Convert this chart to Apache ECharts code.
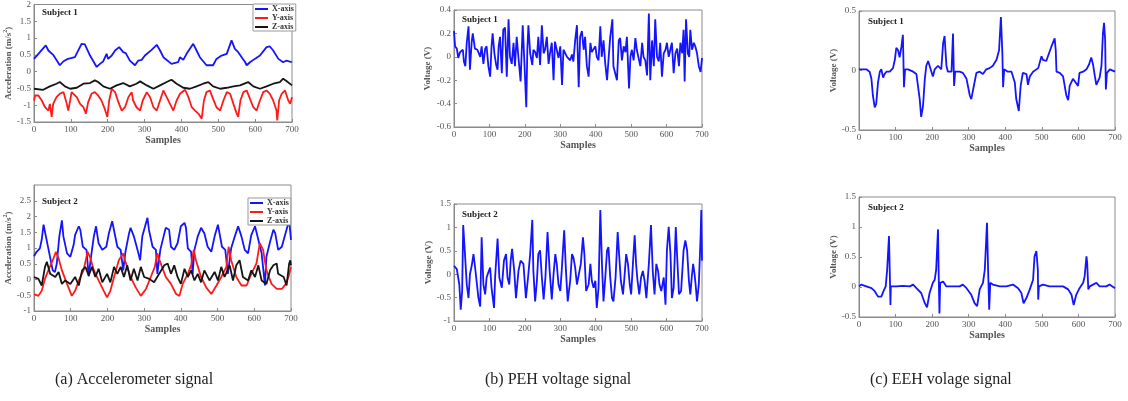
<!DOCTYPE html>
<html><head><meta charset="utf-8">
<script src="https://cdn.jsdelivr.net/npm/echarts@6/dist/echarts.min.js"></script>
<style>html,body{margin:0;padding:0;background:#fff}#c{width:1128px;height:401px}</style>
</head><body><div id="c"></div>
<script>
// ---------- DATA ----------
const xTicks = [0,100,200,300,400,500,600,700];
const seriesNames = ['X-axis','Y-axis','Z-axis'];
const captions = ['(a) Accelerometer signal','(b) PEH voltage signal','(c) EEH volage signal'];
const subjects = ['Subject 1','Subject 2'];

// (a) Subject 1
const acc1X_s = [0,32,39,43,52,70,80,92,100,111,129,138,152,170,172,179,188,197,201,211,220,231,242,249,260,274,283,292,301,319,333,342,351,373,377,391,396,405,414,432,441,450,468,486,495,509,523,536,545,554,573,577,586,599,613,631,640,649,663,676,685,700];
const acc1X_v = [0.38,0.78,0.63,0.67,0.5,0.19,0.31,0.38,0.4,0.43,0.83,0.81,0.48,0.14,0.11,0.23,0.31,0.53,0.38,0.48,0.63,0.73,0.58,0.55,0.33,0.19,0.33,0.35,0.48,0.65,0.8,0.63,0.43,0.23,0.21,0.28,0.43,0.35,0.53,0.83,0.63,0.43,0.19,0.19,0.38,0.48,0.53,0.93,0.68,0.58,0.28,0.19,0.28,0.38,0.48,0.73,0.75,0.63,0.38,0.28,0.33,0.28];
const acc1Y_s = [0,3,12,21,30,39,43,48,52,61,70,80,84,89,93,98,102,107,116,125,134,141,147,156,165,174,183,192,199,204,211,220,229,238,247,256,265,269,278,288,295,306,315,324,333,342,351,360,369,378,387,396,410,419,428,437,446,455,461,468,477,486,495,505,514,523,532,541,550,554,560,568,577,586,595,604,613,622,631,640,649,658,660,665,672,681,690,695,700];
const acc1Y_v = [-0.86,-0.71,-0.71,-0.86,-1.06,-1.16,-0.96,-1.35,-0.96,-0.76,-0.66,-0.61,-0.76,-0.96,-1.16,-0.86,-0.61,-0.56,-0.76,-0.96,-1.06,-1.25,-0.91,-0.66,-0.61,-0.71,-0.86,-1.11,-1.35,-0.86,-0.51,-0.61,-0.91,-1.16,-1.06,-0.76,-0.61,-0.86,-1.06,-1.16,-0.86,-0.61,-0.76,-1.06,-1.16,-0.86,-0.56,-0.76,-0.96,-1.16,-0.86,-0.66,-0.54,-0.76,-1.06,-1.16,-1.25,-1.4,-0.86,-0.61,-0.56,-0.81,-1.06,-1.16,-0.86,-0.61,-0.66,-0.96,-1.25,-1.35,-0.86,-0.61,-0.56,-0.81,-1.06,-1.16,-0.86,-0.61,-0.56,-0.66,-0.86,-1.16,-1.45,-0.86,-0.66,-0.56,-0.86,-0.96,-0.76];
const acc1Z_s = [0,25,43,61,70,84,98,116,134,152,165,174,188,206,224,242,260,278,288,306,324,342,360,373,387,405,423,441,459,473,486,505,523,541,559,581,595,613,631,649,667,676,685,700];
const acc1Z_v = [-0.51,-0.54,-0.44,-0.36,-0.31,-0.44,-0.51,-0.48,-0.36,-0.34,-0.26,-0.31,-0.44,-0.51,-0.41,-0.34,-0.44,-0.36,-0.29,-0.41,-0.51,-0.41,-0.31,-0.24,-0.36,-0.48,-0.51,-0.44,-0.36,-0.31,-0.44,-0.51,-0.48,-0.44,-0.41,-0.31,-0.44,-0.51,-0.44,-0.36,-0.31,-0.21,-0.28,-0.41];

// (a) Subject 2
const acc2X_s = [0,7,16,21,26,30,39,44,51,57,62,69,76,80,90,99,108,112,117,122,126,133,143,149,154,163,169,176,186,197,204,213,217,227,236,243,249,259,263,272,282,289,295,300,309,313,323,332,336,344,353,359,368,373,382,391,400,410,414,419,428,432,437,446,455,464,473,483,492,501,505,512,521,528,537,547,556,565,574,583,592,602,611,620,629,633,643,652,657,665,675,684,695,700];
const acc2X_v = [0.74,0.88,0.99,1.26,1.74,1.69,0.99,0.94,0.29,0.24,0.5,1.37,1.88,1.37,0.83,0.72,1.1,1.42,1.37,1.69,1.58,1.04,0.94,0.1,0.61,1.37,1.69,1.15,0.94,1.04,1.47,1.85,1.8,1.04,0.94,0.29,0.88,1.47,1.64,1.37,0.94,0.61,1.37,1.58,1.96,1.58,1.04,0.94,0.18,0.94,1.37,1.64,1.58,1.04,0.94,1.15,1.69,1.8,1.64,0.99,0.88,0.18,0.94,1.37,1.64,1.47,1.04,0.88,1.37,1.74,1.8,1.04,0.94,0.18,0.99,1.37,1.69,1.37,0.94,0.83,1.42,1.69,1.26,0.83,-0.19,0.72,1.2,1.58,1.47,0.94,1.04,1.42,1.88,1.26];
const acc2Y_s = [0,12,21,30,39,53,60,67,76,90,103,112,122,135,146,154,163,176,190,199,208,218,231,243,249,263,277,291,305,318,329,336,345,359,373,387,396,405,419,428,435,441,455,469,483,497,510,524,530,537,551,565,579,592,606,615,624,633,647,661,675,686,693,700];
const acc2Y_v = [-0.46,-0.52,-0.36,0.02,0.29,0.67,0.88,0.67,0.29,-0.14,-0.52,-0.36,-0.03,0.29,0.88,0.67,0.29,-0.03,-0.36,-0.57,-0.36,0.08,0.61,0.83,0.56,0.08,-0.25,-0.52,-0.3,0.08,0.4,0.83,0.51,0.08,-0.14,-0.46,-0.52,-0.14,0.18,0.45,0.94,0.61,0.08,-0.25,-0.46,-0.19,0.08,0.4,1.04,0.61,0.08,-0.19,-0.19,0.18,0.51,1.15,0.94,0.29,-0.14,-0.3,-0.3,-0.14,0.08,0.4];
const acc2Z_s = [0,12,21,30,35,44,58,67,76,85,99,112,122,131,140,149,158,167,176,186,199,208,218,227,236,245,254,263,272,282,291,300,314,327,341,355,364,373,382,391,400,410,419,428,437,446,455,464,478,492,501,510,519,533,542,551,560,569,583,592,602,611,620,633,643,652,661,665,680,688,695,698,700];
const acc2Z_v = [0.08,0.02,-0.19,0.4,0.56,0.18,0.08,0.24,-0.14,-0.03,-0.14,0.08,-0.19,0.29,0.4,0.13,0.4,0.08,0.34,-0.09,0.18,-0.09,0.4,0.18,0.4,0.08,0.45,-0.03,0.34,-0.03,0.4,0.08,0.02,-0.09,0.18,0.45,0.51,0.18,0.45,0.08,-0.14,0.34,0.08,0.29,-0.03,0.18,-0.09,0.29,-0.03,0.24,-0.03,0.4,0.08,0.45,-0.03,0.45,0.61,0.08,-0.03,0.29,0.08,0.45,-0.03,-0.14,0.29,0.45,0.51,0.18,0.08,-0.19,0.51,0.61,0.45];

// (b) PEH Subject 1
const peh1_s = [0,3,8,12,17,25,28,32,36,41,45,50,53,59,66,74,78,83,88,92,97,102,106,109,114,119,123,126,130,135,139,144,149,154,158,163,168,172,177,182,188,194,198,204,207,210,215,221,224,229,234,238,243,248,253,257,262,267,271,276,281,285,290,295,300,305,309,319,328,333,337,342,347,352,356,361,366,370,375,380,385,389,394,399,403,408,413,417,422,427,432,436,441,447,450,455,460,465,469,474,479,484,488,494,498,502,507,512,516,521,526,531,535,540,545,550,554,559,564,568,573,578,582,587,592,597,601,606,611,615,620,625,630,635,639,644,648,651,655,660,664,667,672,677,681,686,691,696,700];
const peh1_v = [0.22,0.09,0.07,-0.01,0.04,0.06,-0.04,-0.08,0.12,0.26,-0.11,0.13,0.2,0.07,0.06,0,0.09,-0.06,0.07,0.09,-0.08,-0.17,0.09,0.2,0.03,-0.07,-0.11,0.09,0.17,-0.14,0.23,0.25,-0.17,0.32,0,-0.06,0.12,-0.08,0.17,-0.01,-0.21,0.27,0,-0.43,0.06,0.27,0.03,-0.07,0.06,0.04,-0.01,0.17,-0.07,0.27,0.03,0.06,0.17,-0.06,0.03,0.12,-0.2,0.13,0.12,-0.01,0.09,-0.24,0.06,0,-0.03,0.02,-0.04,0.14,0.27,-0.26,0.17,0.22,0.06,0.17,-0.08,-0.17,0.12,0.04,0.04,0.09,0,-0.03,0.26,0,0.14,-0.06,-0.2,-0.03,0.17,0.32,-0.08,-0.08,-0.2,0.14,0.16,-0.03,0.09,0.04,0.17,-0.27,0,0.06,-0.03,0.16,0.06,0.07,-0.08,0.12,0,-0.03,-0.16,0.37,-0.2,0.14,-0.08,0.32,0,-0.04,0.12,-0.17,0.03,0.06,0.12,0,-0.01,0.12,-0.14,0.03,0.07,-0.08,0.12,0.03,0.23,-0.21,0.32,0.03,0,0.23,0.06,0.12,0.09,0.03,-0.08,-0.13,-0.01];

// (b) PEH Subject 2
const peh2_s = [0,8,12,15,19,23,26,31,36,41,45,50,55,59,64,69,74,78,83,88,92,97,102,106,113,116,123,128,135,141,147,151,156,160,164,170,175,182,188,196,203,209,215,221,224,229,234,238,243,248,253,258,264,270,276,281,286,290,295,300,304,311,316,321,328,333,337,342,347,352,358,364,368,373,380,385,389,394,399,403,408,413,418,422,427,432,436,441,446,450,456,462,466,471,477,481,486,491,496,500,505,510,514,518,523,528,533,538,543,550,556,561,566,571,576,580,585,592,597,601,606,611,615,620,626,630,635,641,648,653,658,663,667,671,675,679,682,686,691,696,698,700];
const peh2_v = [0.18,0.11,0.07,-0.22,-0.76,-0.36,1.05,0.43,-0.22,-0.51,0,0.18,0.43,0.18,0.22,-0.51,-0.69,0.79,-0.22,-0.43,-0.07,0.04,0.14,-0.29,-0.72,-0.07,0.76,-0.07,-0.29,0.29,0.43,-0.07,-0.22,0.29,0.54,0.07,-0.51,0.07,0.29,0.22,-0.51,-0.07,0.43,1.16,0.07,-0.58,-0.14,0.43,0.51,-0.07,-0.54,-0.07,0.9,0.07,-0.54,0,0.43,0.22,-0.22,-0.36,0.07,0.94,0.07,-0.58,-0.14,0.43,0.36,0.14,-0.22,-0.25,0.22,0.79,0.43,-0.36,-0.22,0.22,-0.14,-0.29,-0.14,-0.72,-0.29,1.37,0.14,-0.58,-0.07,0.51,0.58,-0.07,-0.51,-0.58,-0.07,0.9,0.43,-0.14,-0.43,-0.07,0.43,0.22,-0.22,-0.43,0.22,0.83,0.22,-0.14,-0.43,-0.07,0.07,-0.14,-0.51,0.22,1.05,0.07,-0.43,0.22,0.07,-0.22,-0.36,-0.07,-0.65,0.51,1.01,0.43,-0.51,-0.29,1.01,0.36,-0.43,-0.36,0.51,0.72,0.51,-0.14,-0.43,-0.07,0.22,0,-0.22,-0.58,-0.22,0.79,1.37,0.29];

// (c) EEH Subject 1
const eeh1_s = [0,20,29,34,38,43,47,52,57,61,66,70,75,84,93,98,102,107,111,116,120,123,126,134,148,157,166,170,175,180,184,189,193,202,207,216,225,230,234,239,243,253,257,260,263,275,284,294,303,307,314,321,330,339,348,357,366,376,383,388,392,394,397,407,417,426,430,437,442,448,458,462,467,476,490,499,503,512,526,535,538,540,549,558,567,572,576,585,590,599,603,613,622,629,635,640,645,649,658,663,667,670,673,675,678,686,700];
const eeh1_v = [0.01,0.01,-0.01,-0.07,-0.21,-0.31,-0.28,-0.1,-0.01,0.01,-0.06,-0.03,-0.01,-0.01,0.02,0.09,0.19,0.17,0.11,0.2,0.3,-0.14,0.01,0.01,-0.01,-0.03,-0.24,-0.39,-0.3,-0.07,0.04,0.08,0.04,-0.05,0.01,0.04,0.01,0.23,0.29,0.04,-0.01,-0.01,0.31,-0.13,-0.01,-0.01,-0.02,-0.07,-0.21,-0.24,-0.13,-0.02,-0.01,-0.03,0.01,0.02,0.04,0.09,0.17,0.45,0.15,-0.14,0.01,-0.01,-0.01,-0.1,-0.24,-0.34,-0.13,-0.02,-0.03,-0.12,-0.05,-0.01,0.02,0.12,0.09,0.08,0.2,0.27,0.17,-0.01,-0.02,-0.05,-0.21,-0.25,-0.13,-0.07,-0.09,-0.13,-0.02,-0.01,0.01,0.05,0.11,0.05,-0.05,-0.12,-0.06,0.04,0.31,0.4,0.26,-0.16,-0.02,0.01,-0.01];

// (c) EEH Subject 2
const eeh2_s = [0,6,20,34,43,52,61,67,73,77,82,84,86,87,102,120,139,148,157,170,180,186,193,202,207,211,216,218,220,222,230,239,257,275,284,294,307,316,323,330,339,344,350,353,356,359,366,385,403,421,435,444,450,458,467,476,480,485,489,490,492,503,521,540,558,572,581,587,594,603,613,617,622,624,627,631,640,649,658,676,685,700];
const eeh2_v = [0.01,0.04,0.01,-0.02,-0.07,-0.16,-0.16,-0.07,0.01,0.29,0.85,0.29,-0.3,0.01,0.01,0.02,0.01,0.04,-0.02,-0.1,-0.27,-0.34,-0.1,0.07,0.12,0.29,0.96,0.18,-0.44,0.07,0.09,0.01,0.01,0.01,0.04,-0.02,-0.13,-0.27,-0.32,-0.04,0.07,0.29,1.07,0.29,-0.38,0.07,0.04,0.01,0.01,0.04,-0.02,-0.1,-0.27,-0.18,-0.04,0.12,0.51,0.6,0.29,-0.21,0.01,0.04,0.01,0.01,0.01,-0.04,-0.13,-0.3,-0.13,-0.02,0.07,0.18,0.51,0.4,-0.04,0.01,0.04,0.07,0.01,0.01,0.04,-0.02];

// ---------- BUILD ----------
const pairs = (s, v) => s.map((x, i) => [x, v[i]]);
const BLUE = '#1414ff', RED = '#ff1a1a', BLACK = '#151515';
const SERIF = '"Liberation Serif", "DejaVu Serif", serif';
const AXC = '#8a8a8a';

const grids = [
  {left: 34, top: 4, width: 258, height: 118},
  {left: 34, top: 185, width: 257, height: 126},
  {left: 454, top: 10, width: 248, height: 117},
  {left: 454, top: 204, width: 248, height: 117},
  {left: 859, top: 11, width: 256, height: 119},
  {left: 859, top: 197, width: 256, height: 120}
];
const yCfg = [
  {min: -1.5, max: 2, interval: 0.5, name: 'Acceleration (m/s{sup|2})', gap: 20},
  {min: -1, max: 3, interval: 0.5, name: 'Acceleration (m/s{sup|2})', gap: 20, hideMax: true},
  {min: -0.6, max: 0.4, interval: 0.2, name: 'Voltage (V)', gap: 22},
  {min: -1, max: 1.5, interval: 0.5, name: 'Voltage (V)', gap: 20},
  {min: -0.5, max: 0.5, interval: 0.5, name: 'Voltage (V)', gap: 20},
  {min: -0.5, max: 1.5, interval: 0.5, name: 'Voltage (V)', gap: 20}
];

const xAxes = grids.map((g, i) => ({
  type: 'value', gridIndex: i, min: xTicks[0], max: xTicks[xTicks.length - 1], interval: 100,
  name: 'Samples', nameLocation: 'middle', nameGap: 13,
  nameTextStyle: {fontFamily: SERIF, fontSize: 10, fontWeight: 'bold', color: '#555'},
  axisLine: {show: true, onZero: false, lineStyle: {color: AXC, width: 1}},
  axisTick: {show: true, inside: true, length: 3, lineStyle: {color: AXC}},
  axisLabel: {fontFamily: SERIF, fontSize: 9, color: '#555', margin: 3},
  splitLine: {show: false}
}));
const yAxes = yCfg.map((c, i) => ({
  type: 'value', gridIndex: i, min: c.min, max: c.max, interval: c.interval,
  name: c.name, nameLocation: 'middle', nameGap: c.gap,
  nameTextStyle: {fontFamily: SERIF, fontSize: 9, fontWeight: 'bold', color: '#555',
    rich: {sup: {fontFamily: SERIF, fontSize: 6, fontWeight: 'bold', color: '#555', verticalAlign: 'top', padding: [0,0,5,0]}}},
  axisLine: {show: true, onZero: false, lineStyle: {color: AXC, width: 1}},
  axisTick: {show: true, inside: true, length: 3, lineStyle: {color: AXC}},
  axisLabel: {fontFamily: SERIF, fontSize: 9, color: '#555', margin: 3, showMaxLabel: !c.hideMax},
  splitLine: {show: false}
}));

function line(name, data, color, idx) {
  return {type: 'line', name: name, xAxisIndex: idx, yAxisIndex: idx, data: data,
    symbol: 'none', color: color, lineStyle: {color: color, width: 1.8}, animation: false};
}

const series = [
  line(seriesNames[0], pairs(acc1X_s, acc1X_v), BLUE, 0),
  line(seriesNames[1], pairs(acc1Y_s, acc1Y_v), RED, 0),
  line(seriesNames[2], pairs(acc1Z_s, acc1Z_v), BLACK, 0),
  line(seriesNames[0], pairs(acc2X_s, acc2X_v), BLUE, 1),
  line(seriesNames[1], pairs(acc2Y_s, acc2Y_v), RED, 1),
  line(seriesNames[2], pairs(acc2Z_s, acc2Z_v), BLACK, 1),
  line('PEH1', pairs(peh1_s, peh1_v), BLUE, 2),
  line('PEH2', pairs(peh2_s, peh2_v), BLUE, 3),
  line('EEH1', pairs(eeh1_s, eeh1_v), BLUE, 4),
  line('EEH2', pairs(eeh2_s, eeh2_v), BLUE, 5)
];

const legendBase = {
  orient: 'vertical', data: seriesNames, icon: 'rect', itemWidth: 13, itemHeight: 2, itemGap: 1, itemTextGap: 3,
  borderColor: '#999', borderWidth: 1, backgroundColor: '#fff', padding: [1, 2, 0, 2],
  textStyle: {fontFamily: SERIF, fontSize: 8, fontWeight: 'bold', color: '#333', padding: [0,0,0,-1]},
  selectedMode: false
};

const subjPos = [[42, 8], [42, 197], [462, 15], [462, 210], [868, 17], [868, 203]];
const titles = subjPos.map((p, i) => ({
  text: subjects[i % 2], left: p[0], top: p[1], padding: 0,
  textStyle: {fontFamily: SERIF, fontSize: 9, fontWeight: 'bold', color: '#222'}
}));
const capPos = [[55, 372], [485, 372], [870, 372]];
capPos.forEach((p, i) => titles.push({
  text: captions[i], left: p[0], top: p[1], padding: 0,
  textStyle: {fontFamily: SERIF, fontSize: 16, fontWeight: 'normal', color: '#222'}
}));

const chart = echarts.init(document.getElementById('c'), null, {renderer: 'canvas'});
chart.setOption({
  animation: false,
  backgroundColor: '#fff',
  title: titles,
  legend: [
    Object.assign({}, legendBase, {left: 253, top: 4}),
    Object.assign({}, legendBase, {left: 248, top: 198})
  ],
  grid: grids.map(g => Object.assign({show: true, borderColor: AXC, borderWidth: 1, backgroundColor: 'transparent'}, g)),
  xAxis: xAxes,
  yAxis: yAxes,
  series: series
});
</script></body></html>
